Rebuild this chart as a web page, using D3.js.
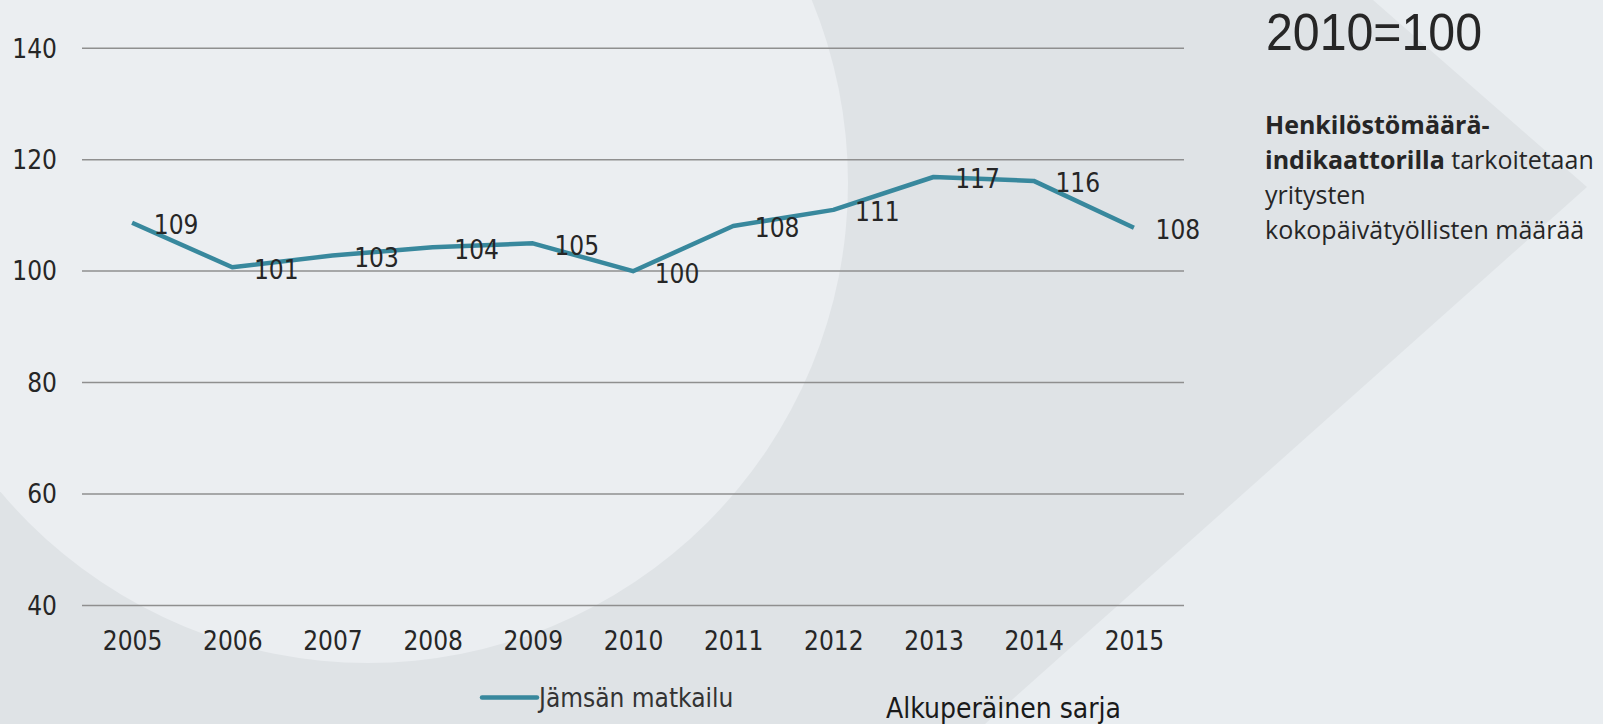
<!DOCTYPE html>
<html lang="fi">
<head>
<meta charset="UTF-8">
<title>Jämsän matkailu</title>
<script src="https://d3js.org/d3.v7.min.js"></script>
<style>
  html, body { margin: 0; padding: 0; background: #e9edf0; }
  svg { display: block; }
  .axis text, .lbl { font-family: "DejaVu Sans", sans-serif; font-stretch: condensed; font-size: 26px; fill: #262626; }
  .axis .domain { display: none; }
  .axis line { stroke: #8f8f8f; stroke-width: 1.5; }
  .side { font-family: "Open Sans", "Noto Sans", sans-serif; fill: #262626; }
</style>
</head>
<body>
<div id="chart"></div>
<script>
// data (index, 2010 = 100)
const years = ["2005", "2006", "2007", "2008", "2009", "2010", "2011", "2012", "2013", "2014", "2015"];
const values = [108.6, 100.6, 102.7, 104.2, 104.9, 99.9, 108.0, 110.9, 116.8, 116.1, 107.7];
const valueLabels = ["109", "101", "103", "104", "105", "100", "108", "111", "117", "116", "108"];
const yTicks = [40, 60, 80, 100, 120, 140];
const seriesName = "Jämsän matkailu";

const W = 1603, H = 724;
const plot = {left: 82, right: 1184, top: 47.7, bottom: 605};

const svg = d3.select("#chart").append("svg")
    .attr("width", W)
    .attr("height", H);

// background shapes
svg.append("rect").attr("width", W).attr("height", H).attr("fill", "#e9edf0");
svg.append("path")
    .attr("d", "M0,0 L1373,0 L1587,187 L985,724 L0,724 Z")
    .attr("fill", "#dfe3e6");
svg.append("circle")
    .attr("cx", 368).attr("cy", 183).attr("r", 480)
    .attr("fill", "#ebeef1");

const x = d3.scalePoint().domain(years).range([plot.left, plot.right]).padding(0.5);
const y = d3.scaleLinear().domain([40, 140]).range([plot.bottom, plot.top]);

// y axis with gridlines
svg.append("g")
    .attr("class", "axis")
    .attr("transform", `translate(${plot.left},0)`)
    .call(d3.axisLeft(y).tickValues(yTicks).tickSize(-(plot.right - plot.left)).tickPadding(25))
    .selectAll("text").attr("dy", "0.36em");

// x axis
svg.append("g")
    .attr("class", "axis")
    .attr("transform", `translate(0,${plot.bottom})`)
    .call(d3.axisBottom(x).tickSize(0).tickPadding(27));

// the line
svg.append("path")
    .datum(values)
    .attr("fill", "none")
    .attr("stroke", "#38889d")
    .attr("stroke-width", 4.5)
    .attr("stroke-linejoin", "round")
    .attr("d", d3.line()
        .x((d, i) => x(years[i]))
        .y(d => y(d)));

// value labels, right of each point
svg.selectAll(".vlbl")
    .data(values)
    .join("text")
    .attr("class", "lbl vlbl")
    .attr("x", (d, i) => x(years[i]) + 44)
    .attr("y", d => y(d) + 2)
    .attr("dy", "0.36em")
    .attr("text-anchor", "middle")
    .text((d, i) => valueLabels[i]);

// legend
svg.append("line")
    .attr("x1", 482).attr("x2", 537)
    .attr("y1", 697.5).attr("y2", 697.5)
    .attr("stroke", "#38889d")
    .attr("stroke-width", 4.5)
    .attr("stroke-linecap", "round");
svg.append("text")
    .attr("class", "lbl")
    .attr("x", 539).attr("y", 706.5)
    .style("fill", "#333")
    .text(seriesName);

svg.append("text")
    .attr("class", "lbl")
    .attr("x", 886).attr("y", 718)
    .style("font-size", "28px")
    .style("fill", "#1a1a1a")
    .text("Alkuperäinen sarja");

// right-hand notes
svg.append("text")
    .attr("x", 1266).attr("y", 50)
    .style("font-family", "'Liberation Sans', sans-serif")
    .style("font-size", "51px")
    .style("fill", "#262626")
    .attr("textLength", 216)
    .attr("lengthAdjust", "spacingAndGlyphs")
    .text("2010=100");

const note = svg.append("g").attr("class", "side").style("font-size", "25px");
const t1 = note.append("text").attr("x", 1265).attr("y", 134);
t1.append("tspan").attr("font-weight", "bold").text("Henkilöstömäärä-");
const t2 = note.append("text").attr("x", 1265).attr("y", 169);
t2.append("tspan").attr("font-weight", "bold").text("indikaattorilla");
t2.append("tspan").text(" tarkoitetaan");
note.append("text").attr("x", 1265).attr("y", 204).text("yritysten");
note.append("text").attr("x", 1265).attr("y", 239).text("kokopäivätyöllisten määrää");
</script>
</body>
</html>
